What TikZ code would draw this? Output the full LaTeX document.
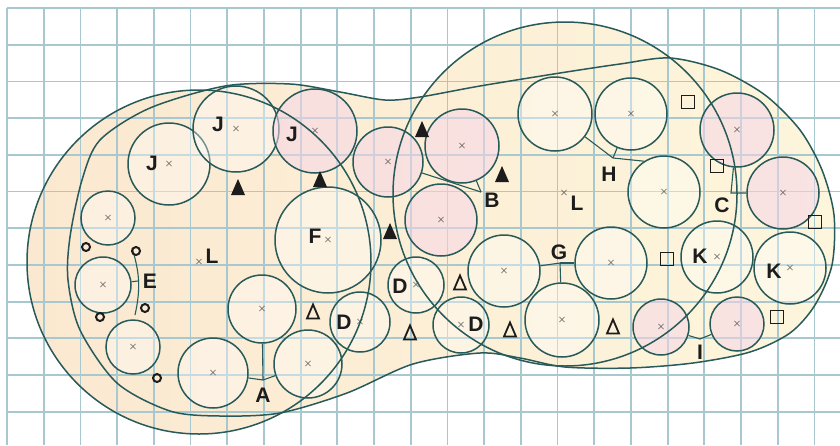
\documentclass[tikz,border=0pt]{standalone}
\usepackage{fontspec}
\setmainfont{Liberation Sans}
\usetikzlibrary{calc}

\definecolor{gridc}{RGB}{168,200,208}
\definecolor{edge}{RGB}{40,90,90}
\definecolor{peach}{RGB}{251,232,208}
\definecolor{lyellow}{RGB}{253,246,220}
\definecolor{lpink}{RGB}{245,214,232}
\definecolor{ink}{RGB}{28,28,28}

\tikzset{
    ftri/.pic={\fill[ink] (-7,-7) -- (7,-7) -- (0,9) -- cycle;},
    otri/.pic={\draw[ink, line width=1.8pt, line join=miter] (-6,-6.5) -- (6,-6.5) -- (0,7.5) -- cycle;},
}

\begin{document}
\begin{tikzpicture}[
    x=1pt, y=1pt,
    % --- Styles ---
    gridline/.style={draw=gridc, line width=1.8pt},
    big/.style={draw=edge, line width=1.5pt},
    grp/.style={circle, draw=edge, line width=1.5pt, inner sep=0pt, minimum size=#1pt,
        fill=white, fill opacity=0.35, text opacity=1, text=ink!80, font=\fontsize{10}{10}\selectfont\boldmath},
    pgrp/.style={grp=#1, fill=lpink, fill opacity=0.55},
    conn/.style={draw=edge, line width=1.1pt},
    lbl/.style={font=\fontsize{21}{21}\selectfont\bfseries, text=ink, inner sep=0pt},
    xm/.style={font=\fontsize{10}{10}\selectfont\boldmath, text=ink!80, inner sep=0pt},
    ring/.style={circle, draw=ink, line width=2pt, minimum size=8pt, inner sep=0pt},
    sq/.style={draw=ink, line width=1.8pt, minimum size=13pt, inner sep=0pt},
]
    \useasboundingbox (0,0) rectangle (840,-445);

    % ==========================
    % 1. SHADED REGIONS
    % ==========================
    \shade[left color=peach, right color=lyellow]
        (199,-262) circle[radius=172]
        (565,-194) circle[radius=172]
        plot[smooth cycle] coordinates {(834,-215) (822,-170) (800,-130) (765,-95) (720,-70)
            (670,-58) (620,-64) (560,-73) (480,-86) (420,-97) (385,-100) (340,-92) (290,-84)
            (225,-86) (150,-108) (100,-140) (82,-180) (70,-237) (68,-280) (80,-330) (117,-383)
            (170,-411) (220,-416) (280,-413) (347,-393) (413,-364) (480,-353) (520,-358)
            (565,-367) (630,-368) (693,-363) (750,-352) (790,-333) (815,-305) (832,-265)};

    % grid paper
    \foreach \i in {0,...,22}
        \draw[gridline] ({7+36.7*\i},-8) -- ({7+36.7*\i},-445);
    \foreach \j in {0,...,11}
        \draw[gridline] (7,{-8-36.7*\j}) -- (840,{-8-36.7*\j});

    % ==========================
    % 2. SMALL CIRCLES
    % ==========================
    % E
    \node[grp=54] (e1) at (108,-218) {$\times$};
    \node[grp=56] (e2) at (103,-285) {$\times$};
    \node[grp=54] (e3) at (133,-347) {$\times$};
    % J
    \node[grp=82] (j1) at (169,-164) {$\times$};
    \node[grp=86] (j2) at (236,-129) {$\times$};
    \node[pgrp=84] (j3) at (315,-131) {$\times$};
    % F
    \node[grp=106] (f1) at (328,-240) {$\times$};
    % A
    \node[grp=68] (a1) at (262,-309) {$\times$};
    \node[grp=70] (a2) at (213,-373) {$\times$};
    \node[grp=68] (a3) at (308,-364) {$\times$};
    % D
    \node[grp=56] (d1) at (416,-285) {$\times$};
    \node[grp=60] (d2) at (360,-322) {$\times$};
    \node[grp=56] (d3) at (461,-325) {$\times$};
    % B
    \node[pgrp=70] (b1) at (388,-162) {$\times$};
    \node[pgrp=74] (b2) at (462,-146) {$\times$};
    \node[pgrp=72] (b3) at (441,-220) {$\times$};
    % G
    \node[grp=72] (g1) at (504,-271) {$\times$};
    \node[grp=72] (g2) at (611,-263) {$\times$};
    \node[grp=74] (g3) at (562,-320) {$\times$};
    % H
    \node[grp=74] (h1) at (555,-114) {$\times$};
    \node[grp=72] (h2) at (631,-114) {$\times$};
    \node[grp=72] (h3) at (664,-192) {$\times$};
    % C
    \node[pgrp=74] (c1) at (737,-130) {$\times$};
    \node[pgrp=72] (c2) at (783,-193) {$\times$};
    % K
    \node[grp=72] (k1) at (717,-257) {$\times$};
    \node[grp=72] (k2) at (790,-268) {$\times$};
    % I
    \node[pgrp=56] (i1) at (661,-327) {$\times$};
    \node[pgrp=54] (i2) at (737,-324) {$\times$};

    % ==========================
    % 3. BIG OUTLINES (L, L and the blob)
    % ==========================
    \draw[big] (199,-262) circle[radius=172];
    \draw[big] (565,-194) circle[radius=172];
    \draw[big] plot[smooth cycle] coordinates {(834,-215) (822,-170) (800,-130) (765,-95) (720,-70)
            (670,-58) (620,-64) (560,-73) (480,-86) (420,-97) (385,-100) (340,-92) (290,-84)
            (225,-86) (150,-108) (100,-140) (82,-180) (70,-237) (68,-280) (80,-330) (117,-383)
            (170,-411) (220,-416) (280,-413) (347,-393) (413,-364) (480,-353) (520,-358)
            (565,-367) (630,-368) (693,-363) (750,-352) (790,-333) (815,-305) (832,-265)};
    \node[xm] (xL1) at (199,-262) {$\times$};
    \node[xm] (xL2) at (564,-193) {$\times$};

    % ==========================
    % 4. CONNECTORS
    % ==========================
    \coordinate (ja) at (263,-380);
    \draw[conn] (a1) -- (ja);
    \draw[conn] (a2) -- (ja);
    \draw[conn] (a3) -- (ja);

    \coordinate (jb) at (481,-192);
    \draw[conn] (b1) -- (jb);
    \draw[conn] (b2) -- (jb);

    \coordinate (jc) at (731,-193);
    \draw[conn] (c1) -- (jc) -- (c2);

    \coordinate (etop) at (132,-248);
    \coordinate (ebot) at (135,-315);
    \coordinate (je) at (138,-281);
    \draw[conn] (etop) to[bend left=15] (ebot);
    \draw[conn] (e2) -- (je);

    \coordinate (jg) at (560,-263);
    \draw[conn] (g1) -- (jg);
    \draw[conn] (g2) -- (jg);
    \draw[conn] (g3) -- (jg);

    \coordinate (jh) at (613,-158);
    \draw[conn] (h1) -- (jh) -- (h3.123);
    \draw[conn] (h2) -- (jh);

    \coordinate (ji) at (700,-339);
    \draw[conn] (i1) -- (ji) -- (i2);

    % ==========================
    % 5. LABELS
    % ==========================
    \node[lbl] (tJ1) at (152,-163) {J};
    \node[lbl] (tJ2) at (218,-124) {J};
    \node[lbl] (tJ3) at (292,-134) {J};
    \node[lbl] (tF) at (315,-236) {F};
    \node[lbl] (tL1) at (212,-256) {L};
    \node[lbl] (tL2) at (577,-203) {L};
    \node[lbl] (tD1) at (400,-286) {D};
    \node[lbl] (tD2) at (344,-322) {D};
    \node[lbl] (tD3) at (476,-324) {D};
    \node[lbl] (tK1) at (700,-256) {K};
    \node[lbl] (tK2) at (774,-271) {K};
    \node[lbl] (tA) at (263,-395) {A};
    \node[lbl] (tB) at (492,-200) {B};
    \node[lbl] (tC) at (722,-205) {C};
    \node[lbl] (tE) at (150,-281) {E};
    \node[lbl] (tG) at (559,-252) {G};
    \node[lbl] (tH) at (609,-174) {H};
    \node[lbl] (tI) at (700,-352) {I};

    % ==========================
    % 6. MARKERS
    % ==========================
    % filled triangles
    \pic at (238,-188) {ftri};
    \pic at (320,-180) {ftri};
    \pic at (390,-232) {ftri};
    \pic at (422,-130) {ftri};
    \pic at (502,-175) {ftri};
    % open triangles
    \pic at (313,-312) {otri};
    \pic at (410,-333) {otri};
    \pic at (460,-283) {otri};
    \pic at (510,-330) {otri};
    \pic at (613,-327) {otri};
    % squares
    \node[sq] (s1) at (688,-102) {};
    \node[sq] (s2) at (717,-166) {};
    \node[sq] (s3) at (815,-222) {};
    \node[sq] (s4) at (667,-259) {};
    \node[sq] (s5) at (777,-317) {};
    % rings
    \node[ring] (o1) at (86,-247) {};
    \node[ring] (o2) at (136,-251) {};
    \node[ring] (o3) at (100,-317) {};
    \node[ring] (o4) at (145,-308) {};
    \node[ring] (o5) at (157,-378) {};

\end{tikzpicture}
\end{document}
